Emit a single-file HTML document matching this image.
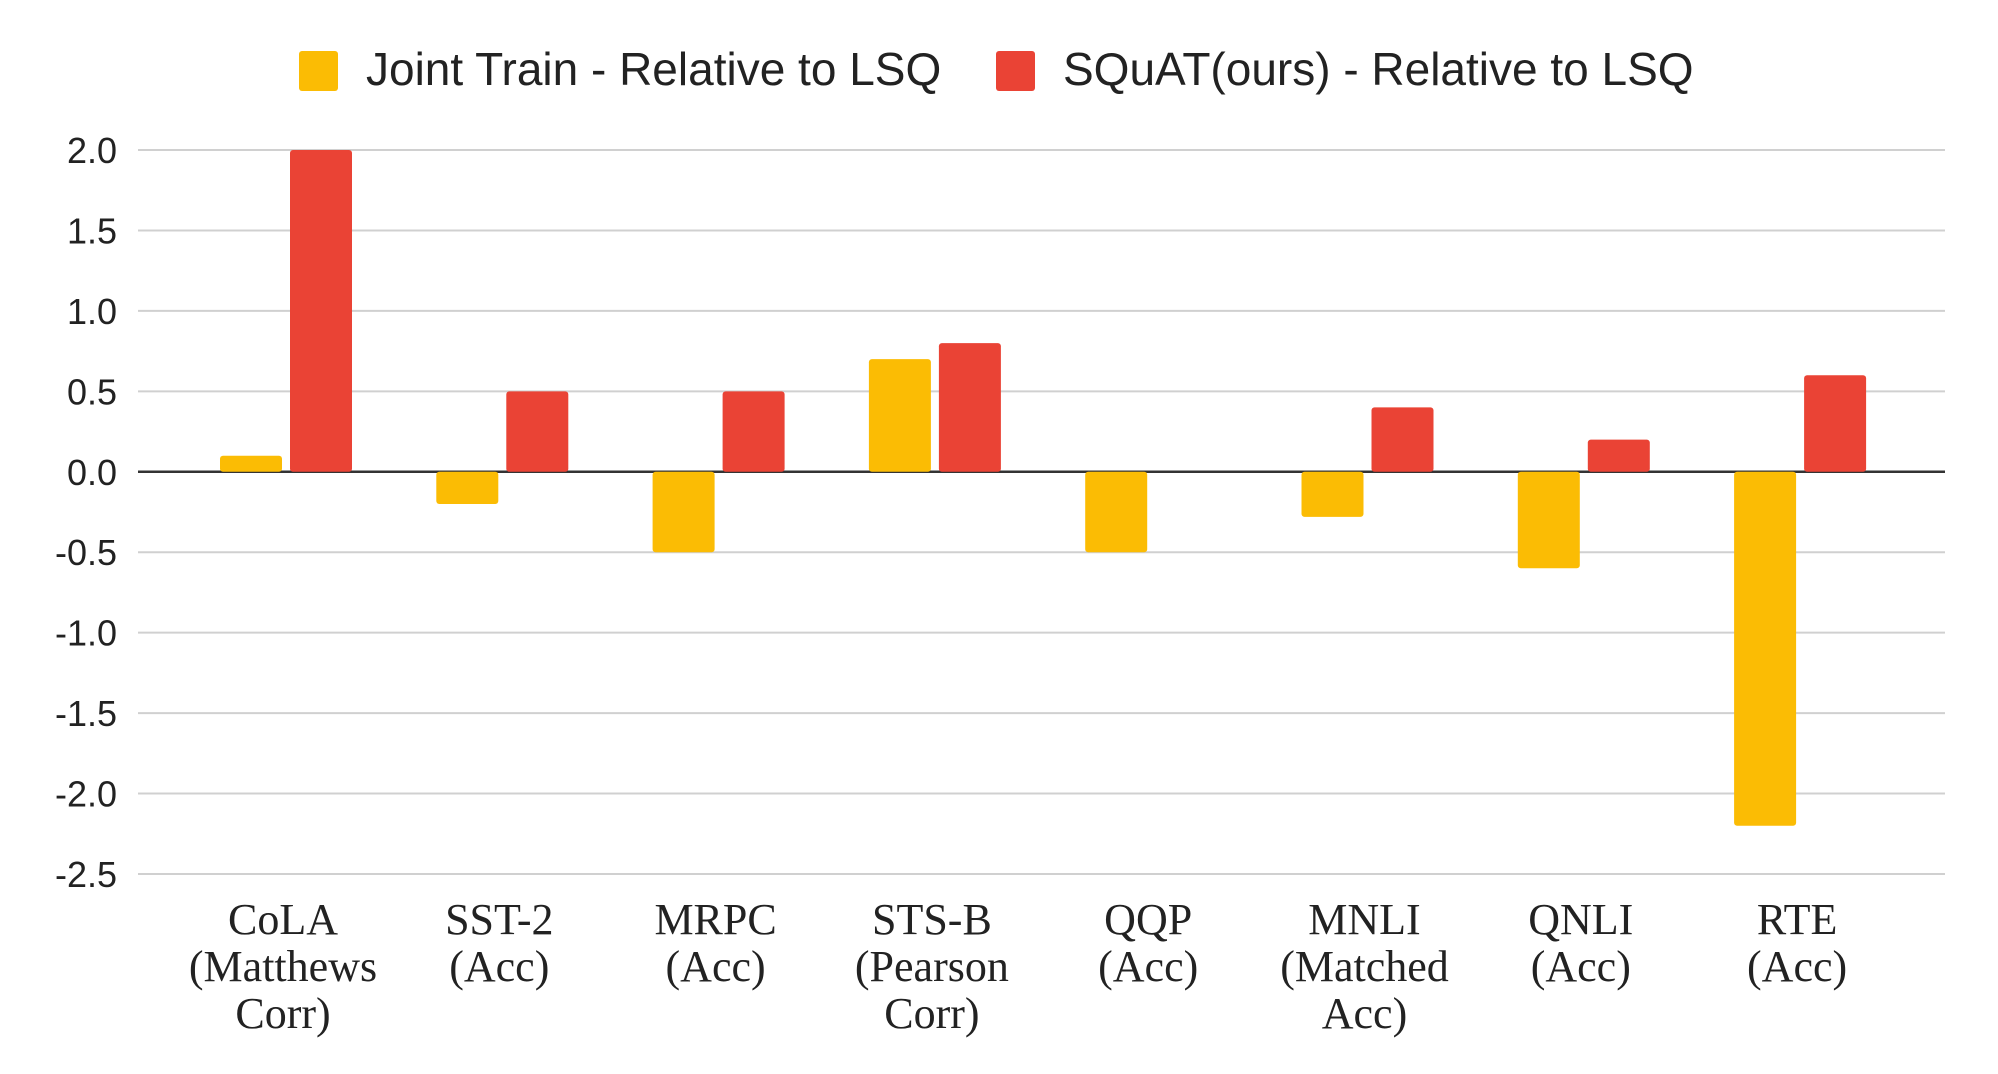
<!DOCTYPE html>
<html><head><meta charset="utf-8"><style>
html,body{margin:0;padding:0;background:#fff;}
svg{display:block;}
</style></head><body>
<svg id="chart" width="1998" height="1074" xmlns="http://www.w3.org/2000/svg">
<g id="legend">
 <rect x="299" y="51" width="39" height="40" rx="3" fill="#FBBC04"/>
 <text x="366" y="85" font-family="Liberation Sans, sans-serif" font-size="46" fill="#222">Joint Train - Relative to LSQ</text>
 <rect x="996" y="51" width="39" height="40" rx="3" fill="#EA4335"/>
 <text x="1063" y="85" font-family="Liberation Sans, sans-serif" font-size="46" fill="#222">SQuAT(ours) - Relative to LSQ</text>
</g>
<g id="grid"></g>
<g id="bars"></g>
<g id="labels"></g>
</svg>
<script>
const categories=[["CoLA","(Matthews","Corr)"],["SST-2","(Acc)"],["MRPC","(Acc)"],["STS-B","(Pearson","Corr)"],["QQP","(Acc)"],["MNLI","(Matched","Acc)"],["QNLI","(Acc)"],["RTE","(Acc)"]];
const jointTrain=[0.1,-0.2,-0.5,0.7,-0.5,-0.28,-0.6,-2.2];
const squat=[2.0,0.5,0.5,0.8,0,0.4,0.2,0.6];
const ticks=[2.0,1.5,1.0,0.5,0.0,-0.5,-1.0,-1.5,-2.0,-2.5];
const tickLabels=["2.0","1.5","1.0","0.5","0.0","-0.5","-1.0","-1.5","-2.0","-2.5"];

const NS="http://www.w3.org/2000/svg";
const x0=138,x1=1945;
function y(v){return 150+(2.0-v)*(874-150)/4.5;}
function xc(i){return 283+i*216.3;}
function mk(tag,attrs,parent){const e=document.createElementNS(NS,tag);for(const k in attrs)e.setAttribute(k,attrs[k]);parent.appendChild(e);return e;}
const grid=document.getElementById('grid'),bars=document.getElementById('bars'),labels=document.getElementById('labels');
ticks.forEach((t,i)=>{
 const l=mk('line',{x1:x0,x2:x1,y1:y(t),y2:y(t),stroke:t===0?'#333':'#d0d0d0','stroke-width':t===0?2.5:2},grid);
 
 
 const tx=mk('text',{x:117,y:y(t)+13,'text-anchor':'end','font-family':'Liberation Sans, sans-serif','font-size':36,fill:'#222'},grid);
 tx.textContent=tickLabels[i];
 
 
});
function bar(v,left,w,color,name){
 if(v===0)return;
 const top=Math.min(y(v),y(0)),h=Math.abs(y(v)-y(0));
 const r=mk('rect',{x:left,y:top,width:w,height:h,fill:color,rx:3},bars);
 
 
}
categories.forEach((c,i)=>{
 const cx=xc(i)+3;
 bar(jointTrain[i],cx-66,62,'#FBBC04','bar-joint-train');
 bar(squat[i],cx+4,62,'#EA4335','bar-squat');
 const t=mk('text',{'text-anchor':'middle','font-family':'Liberation Serif, serif','font-size':44,fill:'#222'},labels);
 
 
 c.forEach((line,j)=>{const s=mk('tspan',{x:xc(i),y:934+j*47},t);s.textContent=line;});
});
</script>
</body></html>
